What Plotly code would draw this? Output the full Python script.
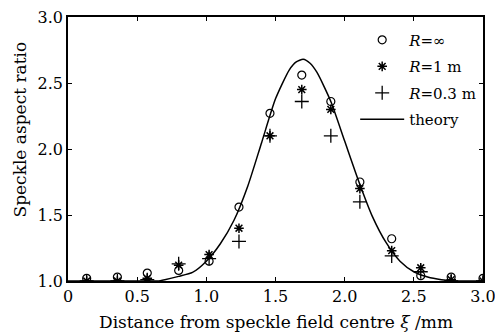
import plotly.graph_objects as go

# measured data
x_data = [0.135, 0.357, 0.573, 0.80, 1.02, 1.236, 1.46, 1.69, 1.90, 2.11, 2.34, 2.55, 2.77, 3.0]
r_inf = [1.02, 1.03, 1.06, 1.08, 1.15, 1.56, 2.27, 2.56, 2.36, 1.75, 1.32, 1.04, 1.03, 1.02]
r_1m = [1.00, 1.00, 1.02, 1.12, 1.20, 1.40, 2.10, 2.45, 2.30, 1.70, 1.23, 1.10, 1.01, 1.00]
r_03m = [1.00, 1.00, 1.01, 1.13, 1.17, 1.30, 2.10, 2.36, 2.10, 1.60, 1.19, 1.07, 1.00, 1.00]

# theory curve
x_theory = [0.0, 0.2, 0.4, 0.6, 0.65, 0.7, 0.8, 0.9, 1.0, 1.1, 1.2, 1.3, 1.4, 1.5, 1.6, 1.65, 1.7,
            1.75, 1.8, 1.9, 2.0, 2.1, 2.2, 2.3, 2.4, 2.5, 2.6, 2.7, 2.8, 2.9, 3.0]
y_theory = [1.0, 1.0, 1.0, 1.0, 1.0, 1.01, 1.035, 1.065, 1.15, 1.28, 1.46, 1.72, 2.05, 2.38, 2.60, 2.66, 2.68,
            2.65, 2.58, 2.36, 2.06, 1.76, 1.49, 1.29, 1.15, 1.07, 1.03, 1.01, 1.0, 1.0, 1.0]

x_ticks = [0, 0.5, 1.0, 1.5, 2.0, 2.5, 3.0]
x_tick_labels = ["0", "0.5", "1.0", "1.5", "2.0", "2.5", "3.0"]
y_ticks = [1.0, 1.5, 2.0, 2.5, 3.0]
y_tick_labels = ["1.0", "1.5", "2.0", "2.5", "3.0"]

x_title = "Distance from speckle field centre <i>ξ</i> /mm"
y_title = "Speckle aspect ratio"

FONT = "DejaVu Serif"

fig = go.Figure()
fig.add_trace(go.Scatter(x=x_data, y=r_inf, mode="markers", name="<i>R</i>=∞", legendgroup="a",
                         marker=dict(symbol="circle-open", size=8, color="black", line=dict(width=1.2))))
fig.add_trace(go.Scatter(x=x_data, y=r_1m, mode="markers", name="<i>R</i>=1 m", legendgroup="b",
                         marker=dict(symbol="asterisk-open", size=8, color="black", line=dict(width=1.5))))
fig.add_trace(go.Scatter(x=x_data, y=r_03m, mode="markers", name="<i>R</i>=0.3 m", legendgroup="c",
                         marker=dict(symbol="cross-thin-open", size=10, color="black", line=dict(width=1.3))))
fig.add_trace(go.Scatter(x=x_theory, y=y_theory, mode="lines", name="theory", legendgroup="d",
                         line=dict(color="black", width=1.5, shape="spline", smoothing=0.6)))

axis_common = dict(showline=True, linecolor="black", linewidth=1.5, mirror="ticks",
                   ticks="inside", ticklen=4, tickcolor="black", tickwidth=1,
                   showgrid=False, zeroline=False, automargin=False,
                   tickfont=dict(family=FONT, size=16, color="black"))

fig.update_xaxes(range=[0, 3.0], tickvals=x_ticks, ticktext=x_tick_labels,
                 ticklabeloverflow="allow", **axis_common)
fig.update_yaxes(range=[1.0, 3.0], tickvals=y_ticks, ticktext=y_tick_labels, **axis_common)

fig.update_layout(
    width=495, height=333,
    margin=dict(l=68, r=12, t=17, b=52, autoexpand=False),
    paper_bgcolor="white", plot_bgcolor="white",
    font=dict(family=FONT, size=16, color="black"),
    showlegend=True,
    legend=dict(x=0.692, y=0.975, xanchor="left", yanchor="top", bgcolor="rgba(0,0,0,0)",
                font=dict(family=FONT, size=15, color="black"), tracegroupgap=4,
                itemwidth=44),
    annotations=[
        dict(text=x_title, xref="paper", yref="paper", x=0.5, y=-0.155, xanchor="center",
             yanchor="middle", showarrow=False, font=dict(family=FONT, size=17, color="black")),
        dict(text=y_title, xref="paper", yref="paper", x=-0.115, y=0.575, xanchor="center",
             yanchor="middle", textangle=-90, showarrow=False,
             font=dict(family=FONT, size=17, color="black")),
    ],
)

fig.write_html("out.html", config={"displayModeBar": False},
               post_script="document.body.style.margin='0';document.body.style.overflow='hidden';")
